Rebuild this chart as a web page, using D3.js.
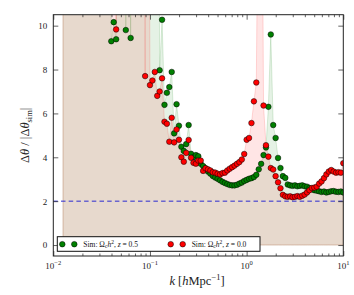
<!DOCTYPE html>
<html><head><meta charset="utf-8">
<script src="https://cdn.jsdelivr.net/npm/d3@7"></script>
<style>body{margin:0;background:#fff}</style>
</head><body><svg id="c" width="354" height="295"></svg>
<script>
// ---- data ----
const kValues = [0.01259,0.01334,0.01413,0.01496,0.01585,0.01679,0.01778,0.01884,0.01995,0.02113,
0.02239,0.02371,0.02512,0.02661,0.02818,0.02985,0.03162,0.03350,0.03548,0.03758,
0.03981,0.04217,0.04467,0.04732,0.05012,0.05309,0.05623,0.05957,0.06310,0.06683,
0.07079,0.07499,0.07943,0.08414,0.08913,0.09441,0.1000,0.1059,0.1122,0.1189,
0.1259,0.1334,0.1413,0.1496,0.1585,0.1679,0.1778,0.1884,0.1995,0.2113,
0.2239,0.2371,0.2512,0.2661,0.2818,0.2985,0.3162,0.3350,0.3548,0.3758,
0.3981,0.4217,0.4467,0.4732,0.5012,0.5309,0.5623,0.5957,0.6310,0.6683,
0.7079,0.7499,0.7943,0.8414,0.8913,0.9441,1.000,1.059,1.122,1.189,
1.259,1.334,1.413,1.496,1.585,1.679,1.778,1.884,1.995,2.113,
2.239,2.371,2.512,2.661,2.818,2.985,3.162,3.350,3.548,3.758,
3.981,4.217,4.467,4.732,5.012,5.309,5.623,5.957,6.310,6.683,
7.079,7.499,7.943,8.414,8.913,9.441,10.00];

// z = 0.5 (green)
const thetaZ05 = [35,42,38,45,40,36,44,39,41,37,
43,38,40,36,42,39,44,37,41,38,
9.29,10.16,9.38,40,38,42,9.8,36,9.44,41,
39,44,37,42,40,38,43,36,41,39,
7.97,10.27,6.39,6.94,7.2,7.89,5.09,6.42,5.44,4.48,
4.29,4.6,5.47,4.16,4.0,4.1,4.05,3.7,3.6,3.5,
3.35,3.25,3.15,3.08,3.02,2.95,2.88,2.83,2.78,2.74,
2.72,2.72,2.75,2.8,2.85,2.92,2.97,3.02,3.05,3.1,
3.2,3.45,3.7,4.1,4.45,6.3,9.6,5.47,4.88,3.97,
3.51,3.14,3.06,2.76,2.72,2.7,2.72,2.68,2.7,2.72,
2.68,2.66,2.6,2.55,2.5,2.48,2.45,2.42,2.44,2.4,
2.42,2.45,2.46,2.43,2.42,2.44,2.4];

// z = 0.0 (red)
const thetaZ00 = [38,44,40,36,42,39,45,37,41,43,
38,40,36,44,39,42,37,41,45,38,
40,43,9.83,39,42,37,44,40,36,43,
38,41,45,39,7.7,42,7.29,7.5,7.89,6.8,
7.0,7.6,5.62,5.53,4.71,5.8,4.68,5.27,4.8,4.0,
3.8,4.2,4.79,3.98,3.75,3.71,3.85,3.85,3.38,3.5,
3.45,3.4,3.32,3.3,3.25,3.22,3.28,3.3,3.4,3.48,
3.55,3.62,3.7,3.78,3.9,4.15,4.8,4.88,5.56,6.55,
7.41,20,25,6.36,4.55,4.03,3.51,3.44,3.14,2.86,
2.59,2.29,2.22,2.2,2.22,2.18,2.2,2.23,2.2,2.25,
2.3,2.4,2.5,2.6,2.62,2.66,2.8,2.9,3.05,3.22,
3.35,3.42,3.35,3.3,3.32,3.3,3.73];

const yTicks = [0,2,4,6,8,10];
const xTickExps = [-2,-1,0,1];
const thresholdValue = 2;
const seriesNames = ["z = 0.5","z = 0.0"];

// ---- layout ----
const svg = d3.select("#c");
const L = 53.3, R = 343.3, T = 14.7, B = 256;
const x = d3.scaleLog().domain([0.01,10]).range([L,R]);
const y = d3.scaleLinear().domain([-0.5,10.5]).range([B,T]);
const serif = "'Liberation Serif','DejaVu Serif',serif";

svg.append("defs").append("clipPath").attr("id","clip")
  .append("rect").attr("x",L).attr("y",T).attr("width",R-L).attr("height",B-T);

const plot = svg.append("g").attr("clip-path","url(#clip)");

const series = [
  {vals: thetaZ05, color:"#008000", name: seriesNames[0]},
  {vals: thetaZ00, color:"#ff0000", name: seriesNames[1]}
];

series.forEach(s=>{
  const area = d3.area().x((d,i)=>x(kValues[i])).y0(y(0)).y1(d=>y(d));
  plot.append("path").datum(s.vals).attr("d",area)
    .attr("fill",s.color).attr("fill-opacity",0.1)
    .attr("stroke",s.color).attr("stroke-opacity",0.18).attr("stroke-width",0.8);
});

// threshold line
plot.append("line").attr("x1",L).attr("x2",R).attr("y1",y(thresholdValue)).attr("y2",y(thresholdValue))
  .attr("stroke","#2a2ad0").attr("stroke-width",1).attr("stroke-dasharray","4.5,3.2");

series.forEach(s=>{
  plot.append("g").selectAll("circle").data(s.vals).join("circle")
    .attr("cx",(d,i)=>x(kValues[i])).attr("cy",d=>y(d)).attr("r",2.8)
    .attr("fill",s.color).attr("stroke","#000").attr("stroke-width",0.5);
});

// axes ticks
const minor = [];
for (let e=-2;e<1;e++) for (let m=2;m<10;m++) minor.push(m*Math.pow(10,e));
const majors = xTickExps.map(e=>Math.pow(10,e));
function styleAxis(g){ g.select(".domain").remove(); g.selectAll("line").attr("stroke","#222").attr("stroke-width",0.7); }
svg.append("g").attr("transform",`translate(0,${B})`).call(d3.axisBottom(x).tickValues(majors).tickSize(-5).tickFormat("")).call(styleAxis);
svg.append("g").attr("transform",`translate(0,${B})`).call(d3.axisBottom(x).tickValues(minor).tickSize(-2.5).tickFormat("")).call(styleAxis);
svg.append("g").attr("transform",`translate(0,${T})`).call(d3.axisTop(x).tickValues(majors).tickSize(-5).tickFormat("")).call(styleAxis);
svg.append("g").attr("transform",`translate(0,${T})`).call(d3.axisTop(x).tickValues(minor).tickSize(-2.5).tickFormat("")).call(styleAxis);
const yl = svg.append("g").attr("transform",`translate(${L},0)`).call(d3.axisLeft(y).tickValues(yTicks).tickSize(-5).tickPadding(6)).call(styleAxis);
yl.selectAll("text").attr("font-family",serif).attr("font-size",9).attr("fill","#222");
svg.append("g").attr("transform",`translate(${R},0)`).call(d3.axisRight(y).tickValues(yTicks).tickSize(-5).tickFormat("")).call(styleAxis);

// x tick labels
xTickExps.forEach(e=>{
  const t = svg.append("text").attr("x",x(Math.pow(10,e))).attr("y",B+13).attr("text-anchor","middle")
    .attr("font-family",serif).attr("font-size",9).attr("fill","#222");
  t.append("tspan").text("10");
  t.append("tspan").attr("dy",-4).attr("font-size",6.5).text(e<0?"\u2212"+(-e):String(e));
});

// frame
svg.append("rect").attr("x",L).attr("y",T).attr("width",R-L).attr("height",B-T)
  .attr("fill","none").attr("stroke","#222").attr("stroke-width",1);

// legend
const lg = svg.append("g");
lg.append("rect").attr("x",57.3).attr("y",236.7).attr("width",202.7).attr("height",14.6)
  .attr("fill","#fff").attr("stroke","#111").attr("stroke-width",1);
const legendItems = [{s:series[0], x0:62.3},{s:series[1], x0:170.7}];
legendItems.forEach(it=>{
  [0,12].forEach(dx=>lg.append("circle").attr("cx",it.x0+dx).attr("cy",244.2).attr("r",2.8)
    .attr("fill",it.s.color).attr("stroke","#000").attr("stroke-width",0.5));
  const t = lg.append("text").attr("x",it.x0+21).attr("y",246.8).attr("font-family",serif)
    .attr("font-size",7.5).attr("fill","#111");
  t.append("tspan").text("Sim: \u03A9");
  t.append("tspan").attr("dy",1.5).attr("font-size",5.5).text("c");
  t.append("tspan").attr("dy",-1.5).attr("font-style","italic").text("h");
  t.append("tspan").attr("dy",-3).attr("font-size",5.5).text("2");
  t.append("tspan").attr("dy",3).text(", ");
  t.append("tspan").attr("font-style","italic").text("z");
  t.append("tspan").text(it.s.name.slice(1));
});

// x label
const xl = svg.append("text").attr("x",197).attr("y",285).attr("text-anchor","middle")
  .attr("font-family",serif).attr("font-size",12.5).attr("fill","#222");
xl.append("tspan").attr("font-style","italic").text("k");
xl.append("tspan").text(" [");
xl.append("tspan").attr("font-style","italic").text("h");
xl.append("tspan").text("Mpc");
xl.append("tspan").attr("dy",-5).attr("font-size",8.5).text("\u22121");
xl.append("tspan").attr("dy",5).text("]");

// y label
const ylab = svg.append("text").attr("transform",`translate(29,${(T+B)/2}) rotate(-90)`)
  .attr("text-anchor","middle").attr("font-family",serif).attr("font-size",12.5).attr("fill","#222");
ylab.append("tspan").text("\u0394");
ylab.append("tspan").attr("font-style","italic").text("\u03B8");
ylab.append("tspan").text(" / |\u0394");
ylab.append("tspan").attr("font-style","italic").text("\u03B8");
ylab.append("tspan").attr("dy",3).attr("font-size",8.5).text("sim");
ylab.append("tspan").attr("dy",-3).text("|");
</script></body></html>
